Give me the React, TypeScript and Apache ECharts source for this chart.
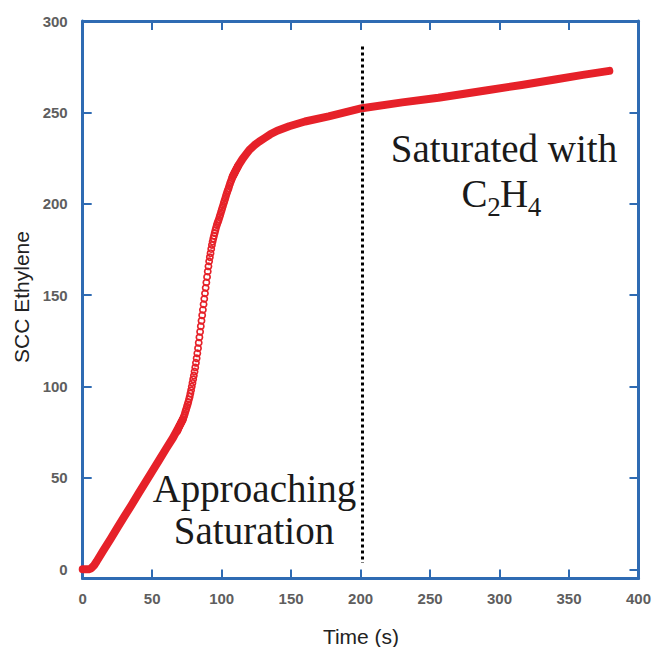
import React, { useEffect, useRef } from "react";
import * as echarts from "echarts";

// ---- Data ----
// Dense part before the knee (drawn as a thick band of merged markers)
const earlyTimes = [0, 2, 4, 6, 8, 10, 15, 20, 25, 30, 35, 40, 45, 50, 55, 60, 65, 70, 72];
const earlyValues = [0, 0, 0, 0.5, 2, 4.3, 10.5, 16.6, 22.8, 29, 35, 41.3, 47.5, 53.6, 59.8, 66, 72, 79, 82];

// Steep part where individual open circles are visible (sampled every 0.5 s)
const steepTimes = [
  68, 68.5, 69, 69.5, 70, 70.5, 71, 71.5, 72, 72.5, 73, 73.5, 74, 74.5, 75, 75.5, 76, 76.5, 77, 77.5,
  78, 78.5, 79, 79.5, 80, 80.5, 81, 81.5, 82, 82.5, 83, 83.5, 84, 84.5, 85, 85.5, 86, 86.5, 87, 87.5,
  88, 88.5, 89, 89.5, 90, 90.5, 91, 91.5, 92, 92.5, 93, 93.5, 94, 94.5, 95, 95.5, 96, 96.5, 97, 97.5,
  98, 98.5, 99, 99.5, 100, 100.5, 101, 101.5, 102, 102.5, 103, 103.5, 104, 104.5, 105, 105.5, 106, 106.5,
  107, 107.5, 108, 108.5, 109, 109.5, 110, 110.5, 111, 111.5, 112,
];
const steepValues = [
  75.5, 76.4, 77.3, 78.2, 79, 79.8, 80.5, 81.2, 82, 83, 84, 85.2, 86.5, 87.7, 89, 90.2, 91.5, 93, 94.5, 96.2,
  98, 100, 102, 104, 106, 108.2, 110.5, 113, 115.5, 118.2, 121, 124, 127, 130, 133, 136, 139, 142, 145, 148,
  151, 154, 157, 160, 163, 165.8, 168.5, 170.8, 173, 175.3, 177.5, 179.3, 181, 182.5, 184, 185.5, 187, 188.3, 189.5, 190.5,
  191.5, 192.8, 194, 195.3, 196.5, 197.8, 199, 200.3, 201.5, 202.8, 204, 205.3, 206.5, 207.5, 208.5, 209.8, 211, 212,
  213, 214, 215, 215.8, 216.5, 217.3, 218, 218.8, 219.5, 220.3, 221,
];

// Saturated part (dense again)
const lateTimes = [108, 110, 112.5, 115, 117.5, 120, 123.5, 127, 131, 135, 140, 148.6, 160, 177, 201, 230, 256, 290, 316, 340, 360, 379];
const lateValues = [215, 218, 221.5, 224.5, 227, 229.5, 232, 234, 236, 238, 240, 242.4, 245, 247.8, 252.3, 255.5, 258, 262, 265, 268, 270.5, 272.7];

// Divider at the saturation point
const dividerTime = 201.5;
const dividerRange = [3.5, 286];

const xTicks = { min: 0, max: 400, interval: 50 };
const yRange = { min: -5, max: 300 };

const RED = "#e62129";
const BLUE = "#2f6bb3";
const SERIF = '"Liberation Serif", "Times New Roman", serif';
const SANS = '"Liberation Sans", Arial, sans-serif';

const zip = (a: number[], b: number[]) => a.map((t, i) => [t, b[i]]);

export default function App() {
  const ref = useRef<HTMLDivElement>(null);

  useEffect(() => {
    if (!ref.current) return;
    const chart = echarts.init(ref.current, undefined, { renderer: "svg" });

    const axisLineStyle = { show: true, onZero: false, lineStyle: { color: BLUE, width: 3 } };
    const axisTick = { show: true, inside: true, length: 9, lineStyle: { color: BLUE, width: 2 } };
    const labelStyle = { color: "#5e5e5e", fontSize: 15, fontWeight: "bold", fontFamily: SANS };

    const bandLine = (data: number[][]) => ({
      type: "line",
      data,
      symbol: "none",
      showSymbol: false,
      smooth: false,
      clip: false,
      silent: true,
      lineStyle: { color: RED, width: 8, cap: "round", join: "round" },
      z: 3,
    });

    chart.setOption({
      animation: false,
      backgroundColor: "#ffffff",
      grid: { left: 82.7, right: 13.3, top: 21, bottom: 68.5, containLabel: false },
      xAxis: [
        {
          type: "value",
          position: "bottom",
          min: xTicks.min,
          max: xTicks.max,
          interval: xTicks.interval,
          axisLine: axisLineStyle,
          axisTick,
          splitLine: { show: false },
          axisLabel: { ...labelStyle, margin: 12 },
        },
        {
          type: "value",
          position: "top",
          min: xTicks.min,
          max: xTicks.max,
          interval: xTicks.interval,
          axisLine: axisLineStyle,
          axisTick,
          splitLine: { show: false },
          axisLabel: { show: false },
        },
      ],
      yAxis: [
        {
          type: "value",
          position: "left",
          min: yRange.min,
          max: yRange.max,
          splitNumber: 6,
          axisLine: axisLineStyle,
          axisTick,
          splitLine: { show: false },
          axisLabel: { ...labelStyle, margin: 15, showMinLabel: false, formatter: (v: number) => (v < 0 ? "" : String(v)) },
        },
        {
          type: "value",
          position: "right",
          min: yRange.min,
          max: yRange.max,
          splitNumber: 6,
          axisLine: axisLineStyle,
          axisTick,
          splitLine: { show: false },
          axisLabel: { show: false },
        },
      ],
      series: [
        bandLine(zip(earlyTimes, earlyValues)),
        bandLine(zip(lateTimes, lateValues)),
        {
          type: "scatter",
          data: zip(steepTimes, steepValues),
          symbol: "circle",
          symbolSize: 6.2,
          clip: false,
          silent: true,
          itemStyle: { color: "rgba(0,0,0,0)", borderColor: RED, borderWidth: 1.7, opacity: 1 },
          z: 3,
        },
        {
          type: "line",
          data: [],
          silent: true,
          z: 5,
          markLine: {
            silent: true,
            symbol: ["none", "none"],
            label: { show: false },
            lineStyle: { color: "#000000", width: 3, type: [3, 3], cap: "butt" },
            data: [[{ coord: [dividerTime, dividerRange[1]] }, { coord: [dividerTime, dividerRange[0]] }]],
          },
        },
      ],
      graphic: [
        {
          type: "text",
          x: 361,
          y: 636,
          style: { text: "Time (s)", font: `21px ${SANS}`, fill: "#222222", align: "center", verticalAlign: "middle" },
        },
        {
          type: "text",
          x: 21,
          y: 297,
          rotation: Math.PI / 2,
          style: { text: "SCC Ethylene", font: `21px ${SANS}`, fill: "#222222", align: "center", verticalAlign: "middle" },
        },
        {
          type: "text",
          x: 254.5,
          y: 488.5,
          style: { text: "Approaching", font: `39px ${SERIF}`, fill: "#1a1a1a", align: "center", verticalAlign: "middle" },
        },
        {
          type: "text",
          x: 254,
          y: 530,
          style: { text: "Saturation", font: `39px ${SERIF}`, fill: "#1a1a1a", align: "center", verticalAlign: "middle" },
        },
        {
          type: "text",
          x: 504,
          y: 148.5,
          style: { text: "Saturated with", font: `39px ${SERIF}`, fill: "#1a1a1a", align: "center", verticalAlign: "middle" },
        },
        {
          type: "text",
          x: 474.5,
          y: 193.5,
          style: { text: "C", font: `39px ${SERIF}`, fill: "#1a1a1a", align: "center", verticalAlign: "middle" },
        },
        {
          type: "text",
          x: 494,
          y: 207,
          style: { text: "2", font: `27px ${SERIF}`, fill: "#1a1a1a", align: "center", verticalAlign: "middle" },
        },
        {
          type: "text",
          x: 514,
          y: 193.5,
          style: { text: "H", font: `39px ${SERIF}`, fill: "#1a1a1a", align: "center", verticalAlign: "middle" },
        },
        {
          type: "text",
          x: 534.5,
          y: 207,
          style: { text: "4", font: `27px ${SERIF}`, fill: "#1a1a1a", align: "center", verticalAlign: "middle" },
        },
      ],
    });

    return () => chart.dispose();
  }, []);

  return (
    <div
      ref={ref}
      style={{ position: "absolute", left: 0, top: 0, width: 654, height: 647, background: "#ffffff" }}
    />
  );
}
